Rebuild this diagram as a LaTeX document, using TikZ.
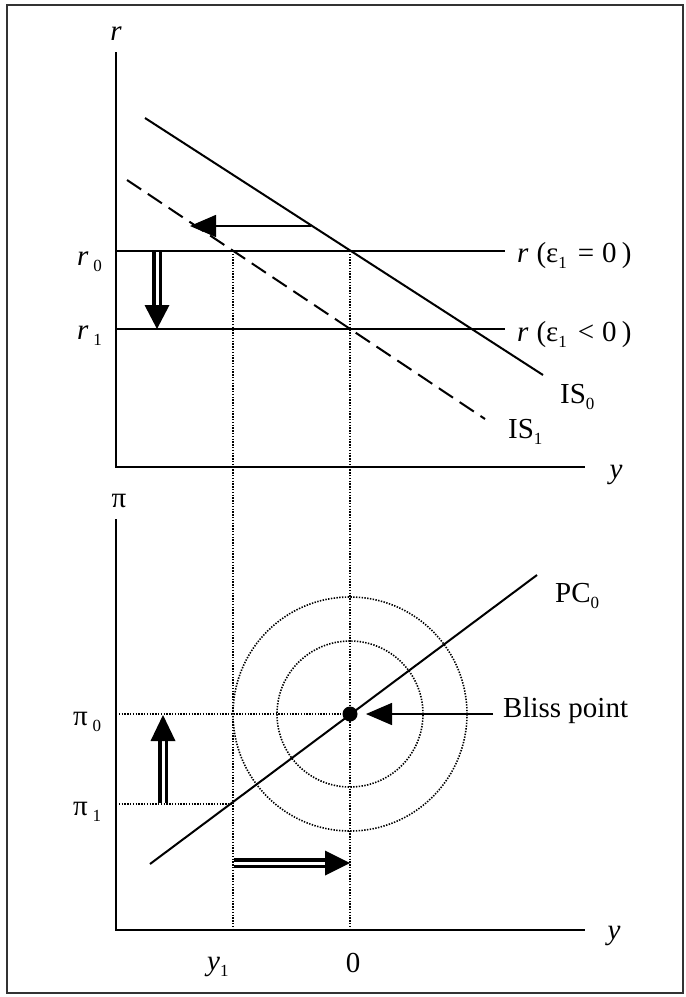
\documentclass[tikz,border=0pt]{standalone}
\usepackage{fontspec}
\setmainfont{Liberation Serif}
\usetikzlibrary{arrows.meta}
\newcommand\subl[1]{\raisebox{-0.5ex}{\fontsize{17}{17}\selectfont #1}}
\begin{document}
\begin{tikzpicture}[x=1pt,y=-1pt,
  lab/.style={font=\fontsize{29}{31}\selectfont, inner sep=0pt},
  axisline/.style={line width=2pt},
  curve/.style={line width=2pt},
  level/.style={line width=1.4pt},
  guide/.style={line width=1.6pt, dash pattern=on 1.4pt off 1.4pt},
  dashcurve/.style={line width=2pt, dash pattern=on 17pt off 8pt},
  dbl/.style={line width=3.3pt, double distance=3pt},
  thinarrow/.style={line width=1.5pt, -{Triangle[length=26pt,width=22pt]}},
]
\useasboundingbox (0,0) rectangle (686,997);
\draw[line width=1.2pt, black!80] (7,5) rectangle (683,993);

% coordinates
\coordinate (rT) at (116,52);
\coordinate (O1) at (116,467);
\coordinate (X1) at (585,467);
\coordinate (pT) at (116,519);
\coordinate (O2) at (116,930);
\coordinate (X2) at (585,930);
\coordinate (r0L) at (116,251);
\coordinate (r0R) at (505,251);
\coordinate (r1L) at (116,329);
\coordinate (r1R) at (505,329);
\coordinate (IS0a) at (145,118);
\coordinate (IS0b) at (543,375);
\coordinate (IS1a) at (127,180);
\coordinate (IS1b) at (485,419);
\coordinate (V1t) at (233,251);
\coordinate (V1b) at (233,930);
\coordinate (V0t) at (350,251);
\coordinate (V0b) at (350,930);
\coordinate (A1s) at (311,226);
\coordinate (A1e) at (190,226);
\coordinate (B) at (350,714);
\coordinate (p0L) at (116,714);
\coordinate (p1L) at (116,804);
\coordinate (p1R) at (233,804);
\coordinate (PCa) at (150,864);
\coordinate (PCb) at (537,575);
\coordinate (BAs) at (493,714);
\coordinate (BAe) at (366,714);

% dotted guides
\draw[guide] (V1t) -- (V1b);
\draw[guide] (V0t) -- (V0b);
\draw[guide] (p0L) -- (B);
\draw[guide] (p1L) -- (p1R);
\draw[guide] (B) circle[radius=117pt];
\draw[guide] (B) circle[radius=73pt];

% axes
\draw[axisline] (rT) -- (O1) -- (X1);
\draw[axisline] (pT) -- (O2) -- (X2);

% levels
\draw[level] (r0L) -- (r0R);
\draw[level] (r1L) -- (r1R);

% IS curves
\draw[curve] (IS0a) -- (IS0b);
\draw[dashcurve] (IS1a) -- (IS1b);

% PC curve
\draw[curve] (PCa) -- (PCb);

% shift arrow
\draw[thinarrow] (A1s) -- (A1e);

% bliss point
\fill (B) circle[radius=7.5pt];
\draw[thinarrow] (BAs) -- (BAe);

% double arrows
\draw[dbl] (157,252) -- (157,306);
\fill (144.5,305) -- (169.5,305) -- (157,329) -- cycle;
\draw[dbl] (163,803) -- (163,740);
\fill (150.5,741) -- (175.5,741) -- (163,715) -- cycle;
\draw[dbl] (234,863) -- (326,863);
\fill (325,850.5) -- (325,875.5) -- (350,863) -- cycle;

% labels
\node[lab, anchor=base] (lr) at (116,40) {\textit{r}};
\node[lab, anchor=base] (lpi) at (119,507) {π};
\node[lab, anchor=base] (ly1) at (616,478) {\textit{y}};
\node[lab, anchor=base] (ly2) at (614,939) {\textit{y}};
\node[lab, anchor=base west] (lr0) at (77,265) {\textit{r}\,\subl{0}};
\node[lab, anchor=base west] (lr1) at (77,339) {\textit{r}\,\subl{1}};
\node[lab, anchor=base west] (lp0) at (73,725) {π\,\subl{0}};
\node[lab, anchor=base west] (lp1) at (73,815) {π\,\subl{1}};
\node[lab, anchor=base west] (le0) at (517,262) {\textit{r}\hspace{8pt}(ε\subl{1}\hspace{11pt}=\hspace{8pt}0\hspace{5pt})};
\node[lab, anchor=base west] (le1) at (517,341) {\textit{r}\hspace{8pt}(ε\subl{1}\hspace{11pt}<\hspace{8pt}0\hspace{5pt})};
\node[lab, anchor=base west] (lis0) at (560,403) {IS\subl{0}};
\node[lab, anchor=base west] (lis1) at (508,438) {IS\subl{1}};
\node[lab, anchor=base west] (lpc) at (555,602) {PC\subl{0}};
\node[lab, anchor=base west] (lbp) at (503,717) {Bliss point};
\node[lab, anchor=base west] (lyy) at (207,970) {\textit{y}\subl{1}};
\node[lab, anchor=base] (lzero) at (353,972) {0};
\end{tikzpicture}
\end{document}
